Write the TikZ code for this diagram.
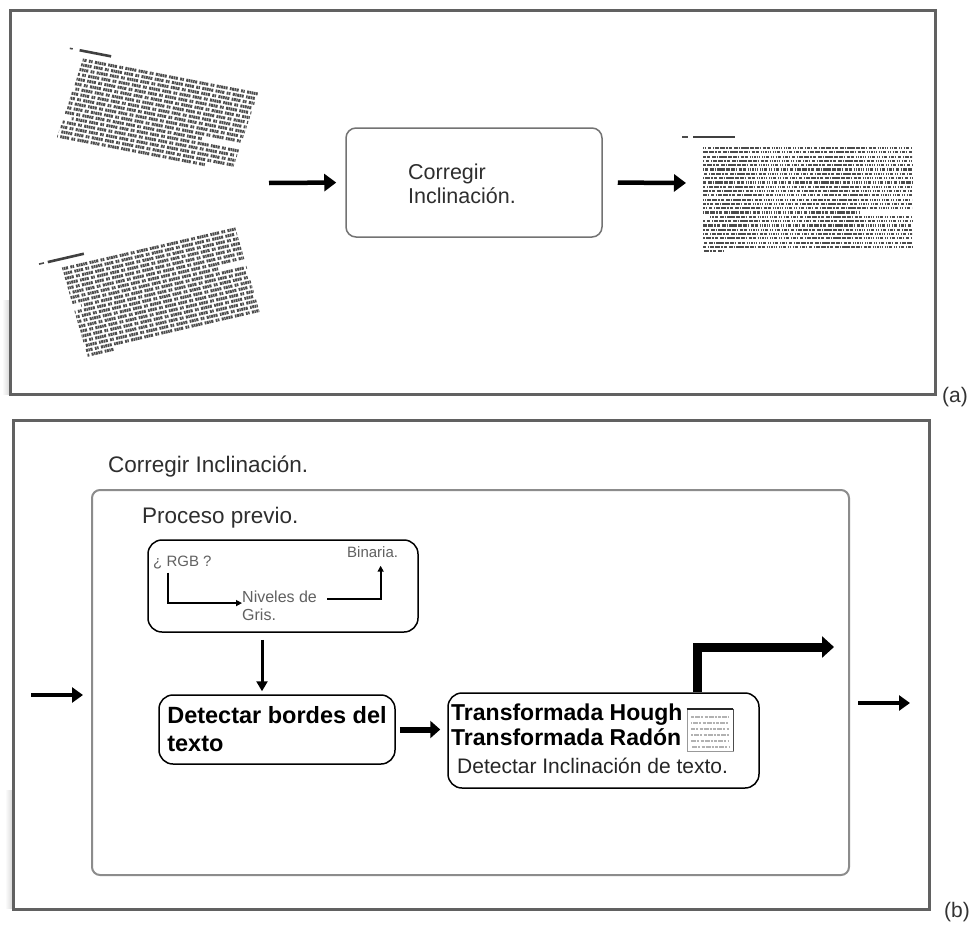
\documentclass[tikz,border=0pt]{standalone}
\usepackage{fontspec}
\setmainfont{Liberation Sans}
\usetikzlibrary{arrows.meta}
\begin{document}
\begin{tikzpicture}[x=1pt,y=-1pt,
  panelframe/.style={draw=black!62, line width=3pt},
  innerframe/.style={draw=black!45, line width=2pt, rounded corners=8pt},
  graybox/.style={draw=black!55, line width=1.5pt, rounded corners=10pt, fill=white},
  pbox/.style={draw=black, line width=1.5pt, rounded corners=14pt, fill=white},
  txtline/.style={line width=3pt, draw=black!70,
    dash pattern=on 1.6pt off 0.6pt on 2pt off 0.6pt on 1.3pt off 0.6pt on 2.2pt off 2.4pt on 1.8pt off 0.6pt on 1.4pt off 2.4pt on 2.1pt off 0.6pt on 1.2pt off 0.6pt on 1.9pt off 0.6pt on 1.5pt off 0.6pt on 2pt off 2.4pt},
  fineline/.style={line width=2.2pt, draw=black!70,
    dash pattern=on 1.3pt off 0.5pt on 1.7pt off 0.5pt on 1.1pt off 0.5pt on 1.8pt off 1.6pt on 1.5pt off 0.5pt on 1.2pt off 1.6pt on 1.6pt off 0.5pt on 1.9pt off 0.5pt on 1.3pt off 1.6pt},
  bigtip/.style={-{Triangle[length=12pt,width=17pt]}, line width=4.5pt},
  iotip/.style={-{Triangle[length=11pt,width=15pt]}, line width=3.5pt},
  smalltip/.style={-{Triangle[length=6pt,width=6pt]}, line width=2.2pt},
  downtip/.style={-{Triangle[length=10pt,width=11pt]}, line width=3pt},
  widetip/.style={-{Triangle[length=10pt,width=17pt]}, line width=6pt},
  hugetip/.style={-{Triangle[length=12pt,width=21pt]}, line width=9pt},
  plain/.style={inner sep=0pt, text=black!80},
  small/.style={inner sep=0pt, text=black!62, font=\fontsize{16}{18}\selectfont},
]
\useasboundingbox (0,0) rectangle (974,926);
\fill[white] (0,0) rectangle (974,926);

% soft shadows along the lower left edges of the two panels
\shade[left color=white, right color=black!14] (2,300) rectangle (9,394);
\shade[left color=white, right color=black!14] (5,790) rectangle (12,908);

% ---------------- panel (a) ----------------
\draw[panelframe] (10,10) rectangle (935,394);
\node[plain, anchor=west, font=\fontsize{21}{23}\selectfont] (la) at (942,397) {(a)};

% skewed page, top
\begin{scope}[shift={(83,59)}, x={(0.983pt,-0.191pt)}, y={(-0.317pt,-0.951pt)}]
  \foreach \i in {0,...,16}{
    \pgfmathsetmacro\ph{mod(\i*13+5,37)}
    \pgfmathsetmacro\us{\i==12 ? 8 : 0}
    \pgfmathsetmacro\ue{\i==11 ? 140 : (\i==16 ? 150 : 178)}
    \draw[txtline, dash phase={\ph pt}] (\us,{1+5*\i}) -- (\ue,{1+5*\i});
  }
  \draw[line width=1.6pt, black!70] (-16,-8) -- (-13,-8);
  \draw[line width=2.6pt, black!75] (-6,-8) -- (26,-8);
\end{scope}

% skewed page, bottom
\begin{scope}[shift={(62,268)}, x={(0.974pt,0.225pt)}, y={(0.277pt,-0.960pt)}]
  \foreach \i in {0,...,18}{
    \pgfmathsetmacro\ph{mod(\i*17+3,37)}
    \pgfmathsetmacro\us{\i==8 ? 8 : 0}
    \pgfmathsetmacro\ue{\i==7 ? 150 : (\i==18 ? 28 : 178)}
    \draw[txtline, dash phase={\ph pt}] (\us,{1+5*\i}) -- (\ue,{1+5*\i});
  }
  \draw[line width=1.6pt, black!70] (-21,-9) -- (-16,-9);
  \draw[line width=2.6pt, black!75] (-12,-9) -- (25,-9);
\end{scope}

% straightened page
\begin{scope}
  \foreach \i in {0,...,24}{
    \pgfmathsetmacro\ph{mod(\i*11+4,31)}
    \pgfmathsetmacro\us{\i==16 ? 710 : 703}
    \pgfmathsetmacro\ue{\i==15 ? 860 : (\i==24 ? 725 : 912)}
    \draw[fineline, dash phase={\ph pt}] (\us,{148+4.3*\i}) -- (\ue,{148+4.3*\i});
  }
  \draw[line width=1.6pt, black!70] (682,137) -- (688,137);
  \draw[line width=2.4pt, black!75] (693,137) -- (735,137);
\end{scope}

\node[graybox, minimum width=256pt, minimum height=109pt] (corr) at (474,182.5) {};
\node[plain, anchor=west, align=left, text=black!82, font=\fontsize{21.5}{24}\selectfont]
  (corrtxt) at (408,184) {Corregir\\Inclinación.};

\coordinate (ain) at (269,183);
\coordinate (aout) at (686,183);
\draw[bigtip, shorten >=9pt] (ain) -- (corr.west);
\draw[bigtip, shorten <=15pt] (corr.east) -- (aout);

% ---------------- panel (b) ----------------
\draw[panelframe] (13,420) rectangle (929,909);
\node[plain, anchor=west, font=\fontsize{21}{23}\selectfont] (lb) at (944,912) {(b)};

\node[plain, anchor=west, text=black!82, font=\fontsize{22.5}{25}\selectfont]
  (title) at (108,467) {Corregir Inclinación.};

\node[innerframe, minimum width=757pt, minimum height=385pt] (inner) at (470.5,682.5) {};

\node[plain, anchor=west, text=black!82, font=\fontsize{22.5}{25}\selectfont]
  (prev) at (142,518) {Proceso previo.};

% preprocessing box
\node[pbox, minimum width=270pt, minimum height=92pt] (pre) at (283,586) {};
\node[small, anchor=west, font=\fontsize{15}{17}\selectfont] (rgb) at (153,563) {¿ RGB ?};
\node[small, anchor=west, font=\fontsize{15}{17}\selectfont] (bin) at (347,552) {Binaria.};
\node[small, anchor=north west, align=left] (gris) at (242,591) {Niveles de\\Gris.};
\draw[smalltip] ([xshift=15pt,yshift=-3pt]rgb.south west) |- ([yshift=3pt]gris.west);
\draw[smalltip] ([xshift=10pt,yshift=7pt]gris.east) -| ([xshift=8pt,yshift=-8pt]bin.south);

% edge detection
\node[pbox, minimum width=236pt, minimum height=69pt, inner xsep=0pt,
  align=left, font=\fontsize{23.5}{28}\selectfont\bfseries] (detect) at (277,729.5)
  {Detectar bordes del\\texto};

% skew detection
\node[pbox, minimum width=311pt, minimum height=95pt] (hough) at (603.5,740.5) {};
\node[plain, anchor=west, text=black, font=\fontsize{23}{25}\selectfont\bfseries]
  (h1) at (451,715) {Transformada Hough};
\node[plain, anchor=west, text=black, font=\fontsize{23}{25}\selectfont\bfseries]
  (h2) at (451,737) {Transformada Radón};
\node[plain, anchor=west, text=black!85, font=\fontsize{21}{23}\selectfont]
  (h3) at (457,766) {Detectar Inclinación de texto.};

% thumbnail of a text sample
\node[draw=black!40, line width=0.7pt, minimum width=46pt, minimum height=42pt,
  inner sep=0pt] (thumb) at (710,730) {};
\draw[line width=2.2pt, black!85] (thumb.north west) -- (thumb.north east);
\draw[line width=1.2pt, black!70] (thumb.north east) -- (thumb.south east);
\foreach \yy/\ph in {717/0,723/2,729/5,735/1,741/4,747/3}{
  \draw[line width=1.3pt, black!30, dash pattern=on 3pt off 1pt on 5pt off 1pt on 2pt off 1.5pt,
    dash phase={\ph pt}] (691,\yy) -- (729,\yy);
}

% connectors
\draw[downtip, shorten <=7pt] ([xshift=-21pt]pre.south) -- ([xshift=-15pt,yshift=3pt]detect.north);
\draw[widetip, shorten <=4pt, shorten >=7pt] (detect.east) -- (detect.east -| hough.west);
\coordinate (bigout) at (834,647);
\draw[hugetip] ([xshift=93.5pt]hough.north) |- (bigout);

\coordinate (bin1) at (31,695);
\coordinate (bout) at (910,703);
\draw[iotip, shorten >=8pt] (bin1) -- (bin1 -| inner.west);
\draw[iotip, shorten <=8pt] (bout -| inner.east) -- (bout);
\end{tikzpicture}
\end{document}
